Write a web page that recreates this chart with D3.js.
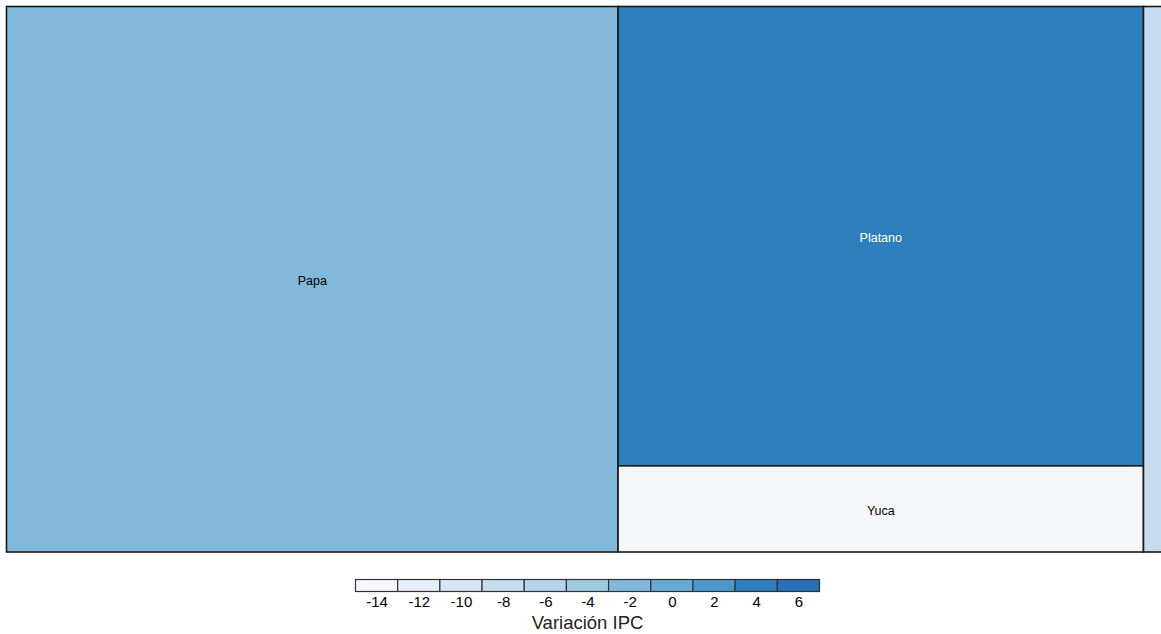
<!DOCTYPE html>
<html><head><meta charset="utf-8">
<script src="https://cdn.jsdelivr.net/npm/d3@7"></script>
<style>body{margin:0;background:#fff;overflow:hidden}svg{display:block}</style>
</head><body><svg id="c" width="1161" height="634"></svg>
<script>
// Data
const categories = ["Papa", "Platano", "Yuca", "Otros tubérculos"];
const sizes = [52.86, 38.24, 7.17, 1.73];          // ponderación (área)
const variations = [-2.3, 4.1, -14.2, -7.6];       // Variación IPC (color)
const legendTicks = [-14, -12, -10, -8, -6, -4, -2, 0, 2, 4, 6];
const binColors = ["#f4f8fd","#e5eff9","#d7e6f4","#c7dcef","#b5d3e9","#9fc8e1",
                   "#82b9da","#68aad4","#4d98ca","#2f7ebc","#2671b4"];
const legendTitle = "Variación IPC";

const svg = d3.select("#c");
const font = "'Liberation Sans', Arial, sans-serif";

const binEdges = d3.range(-15, 8, 2); // -15..7
const color = d3.scaleThreshold().domain(binEdges.slice(1, -1)).range(binColors);

// pivot-by-size tiling
function pivotTile(nodes, x0, y0, x1, y1) {
  const n = nodes.length;
  if (!n) return;
  if (n === 1) { Object.assign(nodes[0], {x0, y0, x1, y1}); return; }
  const w = x1 - x0, h = y1 - y0;
  const total = d3.sum(nodes, d => d.value);
  const p = nodes[0], rest = nodes.slice(1);
  let best = null;
  for (const orient of ["col", "row"]) {
    let s2 = 0;
    for (let k = 0; k <= rest.length; k++) {
      if (k > 0) s2 += rest[k - 1].value;
      const frac = (p.value + s2) / total;
      let pw, ph;
      if (orient === "col") { pw = w * frac; ph = h * p.value / (p.value + s2); }
      else { ph = h * frac; pw = w * p.value / (p.value + s2); }
      const asp = Math.max(pw / ph, ph / pw);
      if (!best || asp < best.asp - 1e-9) best = {orient, k, asp, frac, s2};
    }
  }
  const L2 = rest.slice(0, best.k), L3 = rest.slice(best.k);
  const pf = p.value / (p.value + best.s2);
  if (best.orient === "col") {
    const xm = x0 + w * best.frac, ym = y0 + h * pf;
    Object.assign(p, {x0, y0, x1: xm, y1: L2.length ? ym : y1});
    pivotTile(L2, x0, ym, xm, y1);
    pivotTile(L3, xm, y0, x1, y1);
  } else {
    const ym = y0 + h * best.frac, xm = x0 + w * pf;
    Object.assign(p, {x0, y0, x1: L2.length ? xm : x1, y1: ym});
    pivotTile(L2, xm, y0, x1, ym);
    pivotTile(L3, x0, ym, x1, y1);
  }
}
function tile(parent, x0, y0, x1, y1) { pivotTile(parent.children, x0, y0, x1, y1); }

const data = {name: "root", children: categories.map((c, i) => ({name: c, size: sizes[i], v: variations[i]}))};
const root = d3.hierarchy(data).sum(d => d.size || 0).sort((a, b) => b.value - a.value);
const ox = 6.5, oy = 6.5;
d3.treemap().tile(tile).size([1157, 545.5])(root);

const g = svg.append("g").attr("transform", `translate(${ox},${oy})`);
const leaves = g.selectAll("g.leaf").data(root.leaves()).join("g").attr("class", "leaf");
leaves.append("rect")
  .attr("x", d => d.x0).attr("y", d => d.y0)
  .attr("width", d => d.x1 - d.x0).attr("height", d => d.y1 - d.y0)
  .attr("fill", d => color(d.data.v))
  .attr("stroke", "#1a1a1a").attr("stroke-width", 1.6);
leaves.append("text")
  .attr("x", d => (d.x0 + d.x1) / 2).attr("y", d => (d.y0 + d.y1) / 2 + 2)
  .attr("text-anchor", "middle").attr("dominant-baseline", "central")
  .attr("font-family", font).attr("font-size", 12.5)
  .attr("fill", d => d3.hsl(color(d.data.v)).l < 0.5 ? "#ffffff" : "#000000")
  .text(d => d.data.name)
  .each(function(d) {
    const bb = this.getBBox();
    if (bb.width > (d.x1 - d.x0) - 4 || bb.height > (d.y1 - d.y0) - 4) d3.select(this).remove();
  });

// Legend
const lx = d3.scaleLinear().domain([-15, 7]).range([355.5, 819.5]);
const lg = svg.append("g");
lg.selectAll("rect").data(d3.range(11)).join("rect")
  .attr("x", i => lx(binEdges[i])).attr("y", 579.5)
  .attr("width", i => lx(binEdges[i + 1]) - lx(binEdges[i])).attr("height", 12)
  .attr("fill", i => binColors[i]).attr("stroke", "#333").attr("stroke-width", 1.2);
const axis = d3.axisBottom(lx).tickValues(legendTicks).tickSize(0).tickPadding(0).tickFormat(d3.format("d"));
const ag = lg.append("g").attr("transform", "translate(0,595)").call(axis);
ag.select(".domain").remove();
ag.selectAll("text").attr("font-family", font).attr("font-size", 15).attr("fill", "#000")
  .attr("dy", "0.72em").attr("y", 1.5).text(d => d < 0 ? "-" + Math.abs(d) : d);
lg.append("text").attr("x", (lx(-15) + lx(7)) / 2).attr("y", 628.5)
  .attr("text-anchor", "middle").attr("font-family", font).attr("font-size", 18.5)
  .attr("fill", "#222").text(legendTitle);
</script></body></html>
